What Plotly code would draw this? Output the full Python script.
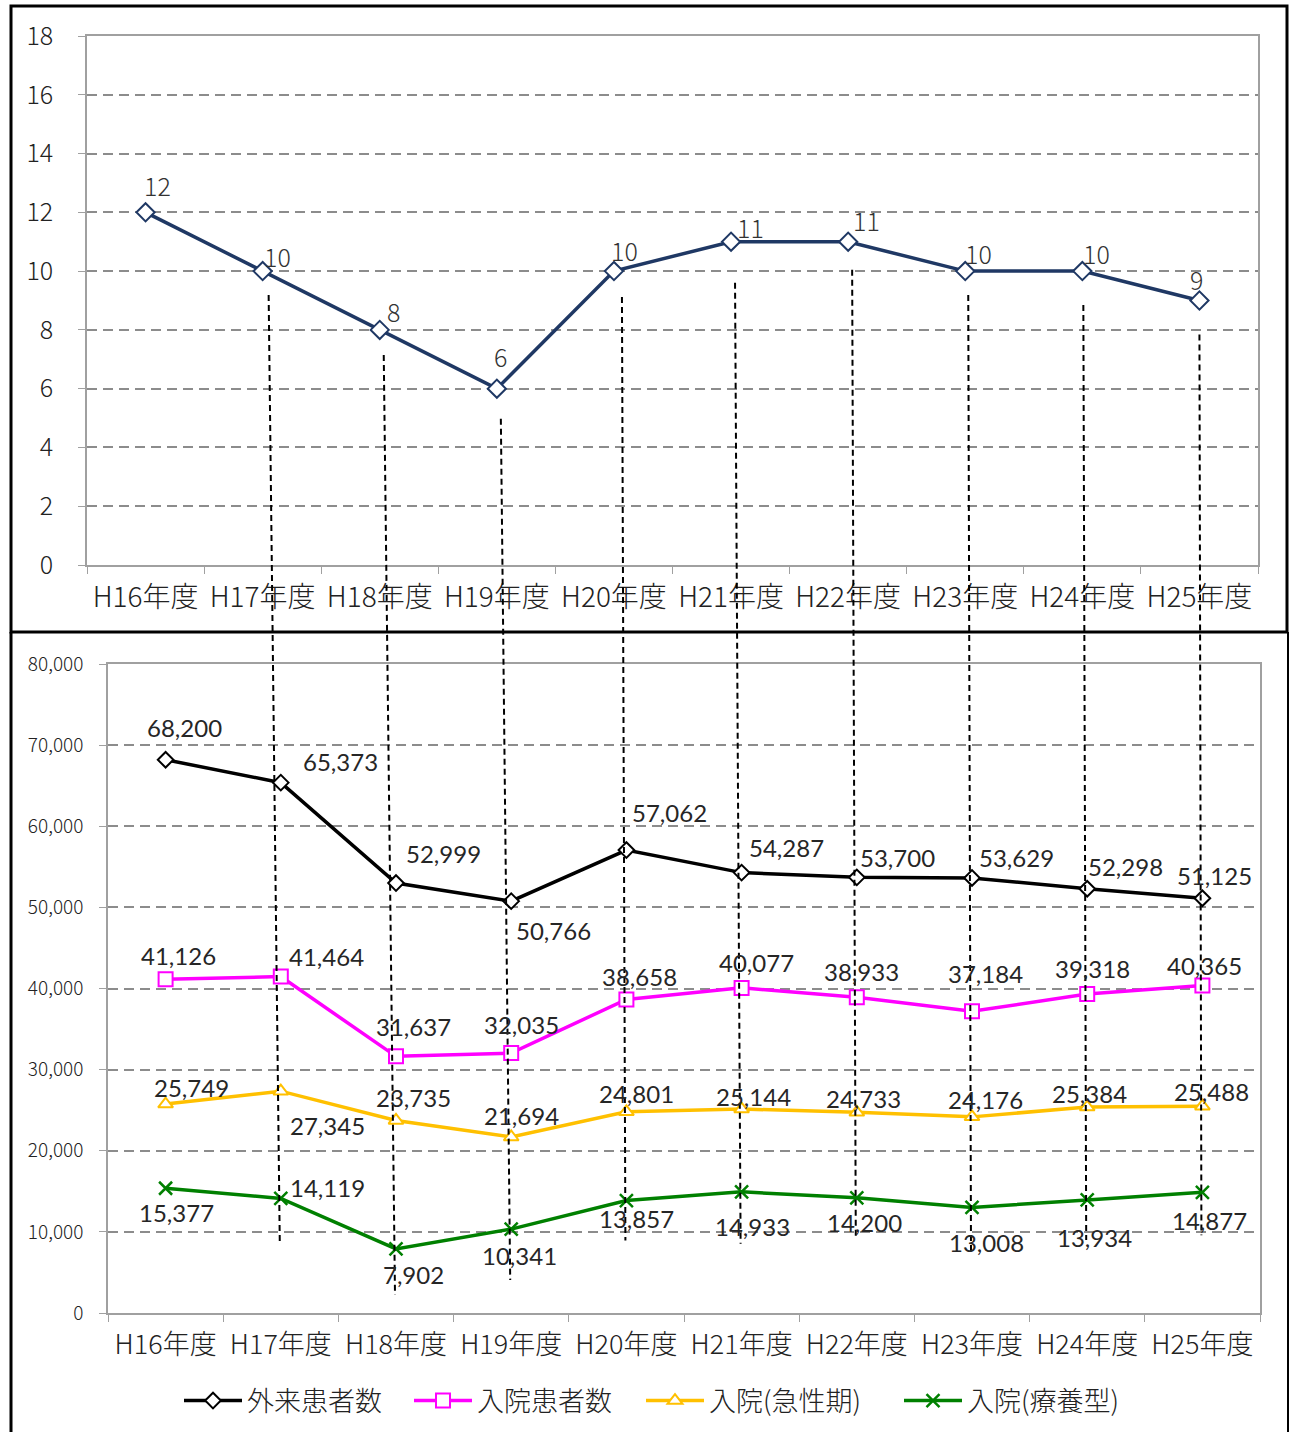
import plotly.graph_objects as go

W, H = 1292, 1432

categories = ["H16年度", "H17年度", "H18年度", "H19年度", "H20年度",
              "H21年度", "H22年度", "H23年度", "H24年度", "H25年度"]

doctors = [12, 10, 8, 6, 10, 11, 11, 10, 10, 9]

outpatients = [68200, 65373, 52999, 50766, 57062, 54287, 53700, 53629, 52298, 51125]
inpatients = [41126, 41464, 31637, 32035, 38658, 40077, 38933, 37184, 39318, 40365]
acute = [25749, 27345, 23735, 21694, 24801, 25144, 24733, 24176, 25384, 25488]
longterm = [15377, 14119, 7902, 10341, 13857, 14933, 14200, 13008, 13934, 14877]

series_names = ["外来患者数", "入院患者数", "入院(急性期)", "入院(療養型)"]

top_yticks = list(range(0, 19, 2))
bot_yticks = list(range(0, 80001, 10000))

# ---- style / layout (pixels) ----
def px_x(p):
    return p / W

def px_y(p):
    return 1 - p / H

TOP_X = [px_x(87), px_x(1258)]
TOP_Y = [px_y(565), px_y(36)]
BOT_X = [px_x(108), px_x(1260)]
BOT_Y = [px_y(1313), px_y(664)]

# legend entry left edges (pixels)
legend_left_px = [179, 409, 641, 899]

# label offsets (dx, dy in pixels; dy positive = downward)
top_lbl_off = [(12, -27), (15, -15), (14, -19), (4, -33), (11, -21),
               (19, -15), (18, -22), (13, -18), (14, -18), (-3, -22)]
out_off = [(19, -32), (60, -21), (47, -30), (42, 29), (43, -38),
           (45, -25), (41, -20), (44, -20), (38, -22), (12, -23)]
inp_off = [(13, -24), (46, -20), (17, -30), (10, -29), (13, -23),
           (15, -25), (5, -26), (13, -38), (5, -26), (2, -20)]
acu_off = [(26, -17), (47, 34), (17, -23), (10, -22), (10, -18),
           (12, -13), (7, -14), (13, -17), (2, -14), (9, -15)]
lng_off = [(11, 24), (47, -11), (17, 26), (8, 26), (10, 18),
           (11, 35), (8, 25), (14, 35), (7, 38), (7, 28)]

# connector dashed lines: start offset below top point, end offset below bottom green point
conn_start = [None, 24, 25, 30, 26, 41, 28, 24, 34, 34]
conn_end = [None, 46, 46, 51, 40, 52, 42, 47, 40, 43]
conn_start_dx = [0, 6, 4, 4, 8, 4, 4, 3, 1, 0]

NAVY = "#1F3864"
colors = ["#000000", "#FF00FF", "#FFC000", "#008000"]
symbols = ["diamond", "square", "triangle-up", "x-thin"]
sizes = [12, 14, 13, 13]
legend_ids = ["legend", "legend2", "legend3", "legend4"]

fig = go.Figure()

fig.add_trace(go.Scatter(
    x=categories, y=doctors, mode="lines+markers", xaxis="x", yaxis="y",
    line=dict(color=NAVY, width=3.5),
    marker=dict(symbol="diamond", size=14, color="white",
                line=dict(color=NAVY, width=2)),
    showlegend=False, hoverinfo="skip"))

bottom_series = [outpatients, inpatients, acute, longterm]
for name, vals, col, sym, sz, lg in zip(series_names, bottom_series, colors, symbols, sizes, legend_ids):
    if sym == "x-thin":
        mk = dict(symbol=sym, size=sz, color=col, line=dict(color=col, width=2.5))
    else:
        mk = dict(symbol=sym, size=sz, color="white", line=dict(color=col, width=2))
    fig.add_trace(go.Scatter(
        x=categories, y=vals, mode="lines+markers", name=name,
        xaxis="x2", yaxis="y2", legend=lg, showlegend=True,
        line=dict(color=col, width=3.5), marker=mk, hoverinfo="skip"))

annotations = []
for c, v, (dx, dy) in zip(categories, doctors, top_lbl_off):
    annotations.append(dict(
        x=c, y=v, xref="x", yref="y", text=str(v), showarrow=False,
        xshift=dx, yshift=-dy,
        font=dict(family="Noto Sans CJK JP, DejaVu Sans", size=25, color="#333333", weight=300)))

for vals, offs in zip(bottom_series, [out_off, inp_off, acu_off, lng_off]):
    for c, v, (dx, dy) in zip(categories, vals, offs):
        annotations.append(dict(
            x=c, y=v, xref="x2", yref="y2", text=f"{v:,}", showarrow=False,
            xshift=dx, yshift=-dy,
            font=dict(family="Lato, Liberation Sans", size=24, color="#262626")))

# connector lines (paper coordinates derived from axis domains/ranges)
def top_paper(i, v):
    x = TOP_X[0] + (i + 0.5) / len(categories) * (TOP_X[1] - TOP_X[0])
    y = TOP_Y[0] + v / 18 * (TOP_Y[1] - TOP_Y[0])
    return x, y

def bot_paper(i, v):
    x = BOT_X[0] + (i + 0.5) / len(categories) * (BOT_X[1] - BOT_X[0])
    y = BOT_Y[0] + v / 80000 * (BOT_Y[1] - BOT_Y[0])
    return x, y

shapes = []
for i in range(1, len(categories)):
    x0, y0 = top_paper(i, doctors[i])
    x1, y1 = bot_paper(i, longterm[i])
    shapes.append(dict(
        type="line", xref="paper", yref="paper",
        x0=x0 + conn_start_dx[i] / W, y0=y0 - conn_start[i] / H,
        x1=x1 - 1 / W, y1=y1 - conn_end[i] / H,
        line=dict(color="black", width=2, dash="6px,4px"), layer="above"))

# panel borders
shapes.append(dict(type="rect", xref="paper", yref="paper",
                   x0=px_x(11), x1=px_x(1287), y0=px_y(632), y1=px_y(6),
                   line=dict(color="black", width=3), layer="below"))
shapes.append(dict(type="line", xref="paper", yref="paper",
                   x0=px_x(11), x1=px_x(11), y0=px_y(632), y1=0,
                   line=dict(color="black", width=3)))
shapes.append(dict(type="line", xref="paper", yref="paper",
                   x0=px_x(1288), x1=px_x(1288), y0=px_y(632), y1=0,
                   line=dict(color="black", width=2)))

GRID = "#8C8C8C"
AX = "#A0A0A0"

def xaxis_cfg(domain, anchor, size):
    return dict(domain=domain, anchor=anchor, type="category", automargin=False,
                range=[-0.5, len(categories) - 0.5],
                showline=True, mirror=True, linecolor=AX, linewidth=1.5,
                ticks="outside", tickson="boundaries", ticklen=7, tickcolor=AX,
                tickfont=dict(family="Noto Sans CJK JP, DejaVu Sans", size=size,
                              color="#222222", weight=300),
                ticklabelstandoff=7,
                showgrid=False, fixedrange=True)

def yaxis_cfg(domain, anchor, rng, vals, size, standoff):
    return dict(domain=domain, anchor=anchor, range=rng, tickvals=vals,
                tickformat=",", automargin=False,
                showline=True, mirror=True, linecolor=AX, linewidth=1.5,
                ticks="outside", ticklen=7, tickcolor=AX,
                showgrid=True, gridcolor=GRID, gridwidth=2, griddash="10px,6px",
                zeroline=False, fixedrange=True,
                tickfont=dict(family="Noto Sans CJK JP, DejaVu Sans", size=size,
                              color="#222222", weight=300),
                ticklabelstandoff=standoff)

legend_font = dict(family="Noto Sans CJK JP", size=27, color="#222222", weight=300)
legends = {}
for lg, lx in zip(legend_ids, legend_left_px):
    legends[lg] = dict(orientation="h", x=px_x(lx), xanchor="left",
                       y=px_y(1401), yanchor="middle", font=legend_font,
                       itemwidth=58, bgcolor="rgba(0,0,0,0)")

fig.update_layout(
    template="none",
    width=W, height=H, autosize=False,
    margin=dict(l=0, r=0, t=0, b=0, pad=0, autoexpand=False),
    paper_bgcolor="white", plot_bgcolor="white",
    annotations=annotations, shapes=shapes,
    xaxis=xaxis_cfg(TOP_X, "y", 28),
    yaxis=yaxis_cfg(TOP_Y, "x", [0, 18], top_yticks, 25, 20),
    xaxis2=xaxis_cfg(BOT_X, "y2", 27),
    yaxis2=yaxis_cfg(BOT_Y, "x2", [0, 80000], bot_yticks, 19, 12),
    showlegend=True,
    **legends,
)

fig.write_html("out.html", config={"displayModeBar": False},
               post_script="document.body.style.margin='0px';document.body.style.overflow='hidden';")
